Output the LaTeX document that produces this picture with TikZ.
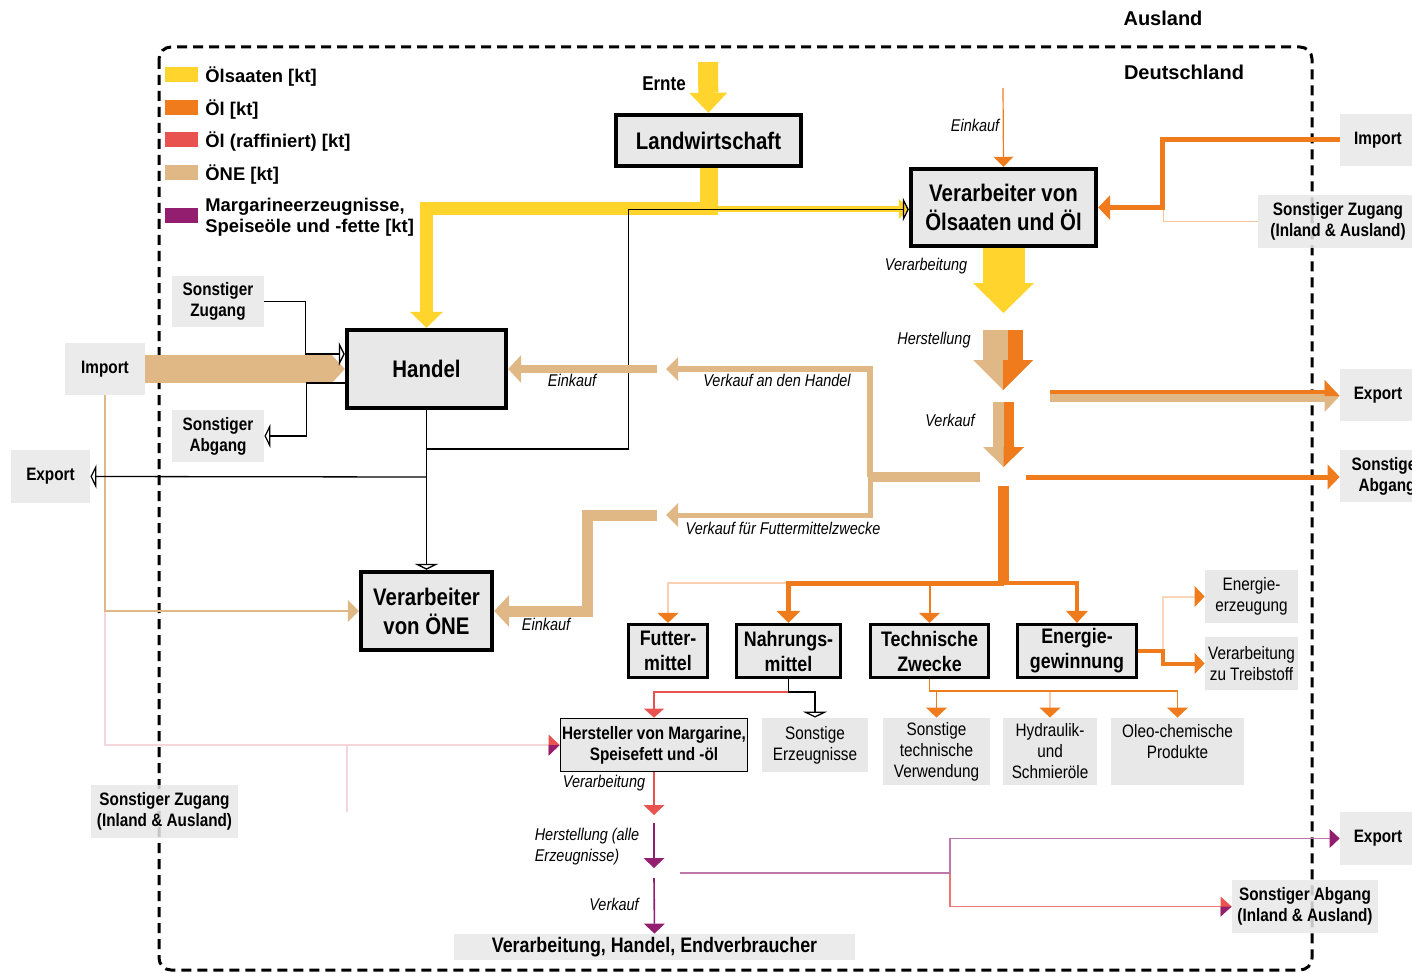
\documentclass[tikz,border=0pt]{standalone}
\usepackage{fontspec}
\setmainfont{Liberation Sans}
\newfontfamily\narrowfont{Liberation Sans}[FakeStretch=0.85]
\usetikzlibrary{arrows.meta, calc}
\definecolor{oilseed}{HTML}{FFD42C}
\definecolor{oil}{HTML}{EF7B1D}
\definecolor{refined}{HTML}{E9534F}
\definecolor{one}{HTML}{DFB886}
\definecolor{marg}{HTML}{931D6E}
\definecolor{boxgray}{HTML}{E8E8E8}
\definecolor{faintpink}{HTML}{F6D6DA}
\newcommand\boxfont{\narrowfont\bfseries\fontsize{12}{14.5}\selectfont}
\newcommand\smallboxfont{\narrowfont\bfseries\fontsize{10.5}{12.5}\selectfont}
\newcommand\sidefont{\narrowfont\bfseries\fontsize{9}{10.5}\selectfont}
\newcommand\prodfont{\narrowfont\fontsize{9}{10.5}\selectfont}
\newcommand\lblfont{\narrowfont\itshape\fontsize{8.5}{10.5}\selectfont}
\newcommand\legfont{\bfseries\fontsize{9.2}{10.5}\selectfont}
\newcommand\hdrfont{\bfseries\fontsize{10}{12}\selectfont}
\newcommand\consumerfont{\narrowfont\bfseries\fontsize{10.5}{12}\selectfont}
\begin{document}
\begin{tikzpicture}[x=0.5pt, y=-0.5pt,
    mainbox/.style={draw=black, line width=2.2pt, fill=boxgray, font=\boxfont, align=center, inner sep=0pt},
    usebox/.style={draw=black, line width=1.6pt, fill=boxgray, font=\smallboxfont, align=center, inner sep=0pt, minimum height=26.5pt},
    sidebox/.style={fill=boxgray, fill opacity=0.85, text opacity=1, font=\sidefont, align=center, inner sep=0pt},
    prodbox/.style={fill=boxgray, font=\prodfont, align=center, inner sep=0pt},
    lbl/.style={font=\lblfont, inner sep=0pt, align=left},
    flowhead/.style 2 args={-{Triangle[length=#1, width=#2, line width=0pt]}},
    ohead/.style={-{Triangle[length=5pt, width=10.5pt, line width=0pt, color=oil]}},
    link/.style={draw=black, line width=0.65pt, -{Triangle[open, length=3pt, width=12pt]}}
]
\useasboundingbox (0,0) rectangle (1412,973);

% Frame Deutschland
\draw[line width=1.5pt, dash pattern=on 5pt off 3pt, rounded corners=6pt] (159,47) rectangle (1312,970);
\node[font=\hdrfont] (ausland) at (1163,18) {Ausland};
\node[font=\hdrfont] (deutschland) at (1184,72) {Deutschland};

% Legend
\foreach \col/\yy/\txt in {oilseed/75/{Ölsaaten [kt]}, oil/108/{Öl [kt]}, refined/140/{Öl (raffiniert) [kt]}, one/173/{ÖNE [kt]}, marg/215.5/{Margarineerzeugnisse,\\Speiseöle und -fette [kt]}} {
    \fill[\col] (165,\yy-7.5) rectangle (198,\yy+7.5);
    \node[font=\legfont, anchor=west, align=left, inner sep=0pt] (leg\col) at (205,\yy+1.5) {\txt};
}

% Main actors
\node[mainbox, minimum width=92.5pt, minimum height=25.5pt] (landw) at (708.5,140.5) {Landwirtschaft};
\node[mainbox, minimum width=79.5pt, minimum height=39pt] (handel) at (426.5,369) {Handel};
\node[mainbox, minimum width=92.5pt, minimum height=38.5pt] (vsaat) at (1003.5,207.5) {Verarbeiter von\\Ölsaaten und Öl};
\node[mainbox, minimum width=65.5pt, minimum height=39pt] (vone) at (426.5,611) {Verarbeiter\\von ÖNE};

% Uses
\node[usebox, minimum width=39.5pt] (futter) at (668,651) {Futter-\\mittel};
\node[usebox, minimum width=52pt] (nahrung) at (788.5,651) {Nahrungs-\\mittel};
\node[usebox, minimum width=59pt] (technisch) at (929.5,651) {Technische\\Zwecke};
\node[usebox, minimum width=59.5pt] (energie) at (1077,651) {Energie-\\gewinnung};
\node[draw=black, line width=0.8pt, fill=boxgray, font=\sidefont, align=center, inner sep=0pt, minimum width=93.5pt, minimum height=26.5pt] (hersteller) at (654,745) {Hersteller von Margarine,\\Speisefett und -öl};

% Sources and sinks
\node[sidebox, minimum width=46pt, minimum height=25.5pt] (szugL) at (218,301.5) {Sonstiger\\Zugang};
\node[sidebox, minimum width=40pt, minimum height=26pt] (importL) at (105,369) {Import};
\node[sidebox, minimum width=46pt, minimum height=26pt] (sabgL) at (218,436) {Sonstiger\\Abgang};
\node[sidebox, minimum width=39.5pt, minimum height=26.5pt] (exportL) at (50.5,476.5) {Export};
\node[sidebox, minimum width=73.5pt, minimum height=26.5pt] (szugLL) at (164.5,811.5) {Sonstiger Zugang\\(Inland \& Ausland)};
\node[sidebox, minimum width=38pt, minimum height=26pt] (importR) at (1378,140) {Import};
\node[sidebox, minimum width=80pt, minimum height=26.5pt] (szugR) at (1338,221.5) {Sonstiger Zugang\\(Inland \& Ausland)};
\node[sidebox, minimum width=38pt, minimum height=26pt] (exportR) at (1378,395) {Export};
\node[sidebox, minimum width=47pt, minimum height=26pt] (sabgR) at (1387,476) {Sonstiger\\Abgang};
\node[sidebox, minimum width=38pt, minimum height=26.5pt] (exportRR) at (1378,838.5) {Export};
\node[sidebox, minimum width=73pt, minimum height=26.5pt] (sabgRR) at (1305,906.5) {Sonstiger Abgang\\(Inland \& Ausland)};
\node[prodbox, minimum width=46.5pt, minimum height=26.5pt] (energieerz) at (1251.5,596.5) {Energie-\\erzeugung};
\node[prodbox, minimum width=46.5pt, minimum height=26.5pt] (treibstoff) at (1251.5,663.5) {Verarbeitung\\zu Treibstoff};
\node[prodbox, minimum width=53pt, minimum height=27pt] (sonsterz) at (815,745) {Sonstige\\Erzeugnisse};
\node[prodbox, minimum width=53.5pt, minimum height=33.5pt] (sonsttech) at (936.5,751.5) {Sonstige\\technische\\Verwendung};
\node[prodbox, minimum width=47pt, minimum height=33.5pt] (hydraulik) at (1050,751.5) {Hydraulik-\\und\\Schmieröle};
\node[prodbox, minimum width=66.5pt, minimum height=33.5pt] (oleo) at (1177.5,751.5) {Oleo-chemische\\Produkte\\~};
\node[sidebox, font=\consumerfont, minimum width=200.5pt, minimum height=13pt] (endv) at (654.5,947) {Verarbeitung, Handel, Endverbraucher};

% Flow labels
\node[font=\narrowfont\bfseries\fontsize{10}{12}\selectfont] (ernte) at (664,84) {Ernte};
\node[lbl] (lekO) at (975,125) {Einkauf};
\node[lbl] (lvaO) at (926,266) {Verarbeitung};
\node[lbl] (lheO) at (934,340) {Herstellung};
\node[lbl] (lvkO) at (950,420) {Verkauf};
\node[lbl] (lekH) at (572,380) {Einkauf};
\node[lbl] (lvkH) at (777,380) {Verkauf an den Handel};
\node[lbl] (lvkF) at (783,528) {Verkauf für Futtermittelzwecke};
\node[lbl] (lekF) at (546,624) {Einkauf};
\node[lbl] (lvaM) at (604,783) {Verarbeitung};
\node[lbl] (lheM) at (587,847) {Herstellung (alle\\Erzeugnisse)};
\node[lbl] (lvkM) at (614,904) {Verkauf};

% Free ends
\coordinate (erntein) at (708,62);
\coordinate (yfork) at (708,209);
\coordinate (einkaufin) at (1003,88);
\coordinate (verarbtip) at (1003.5,313);
\coordinate (herstTop) at (1003,330);
\coordinate (herstTip) at (1003,390);
\coordinate (vkTop) at (1003.5,402);
\coordinate (vkTip) at (1003.5,467);
\coordinate (exStart) at (1050,396);
\coordinate (exTip) at (exStart -| exportR.west);
\coordinate (sabgStart) at (1026,477);
\coordinate (tanStart) at (980,477);
\coordinate (tanFork) at (870,477);
\coordinate (vkHandelTip) at (666,369);
\coordinate (vkFutterTip) at (666,515);
\coordinate (ekHandel) at (657,369);
\coordinate (ekFutter) at (657,515);
\coordinate (oTop) at (1003.5,486);
\coordinate (oBus) at (1003.5,583);
\coordinate (hsplitA) at (426.5,449);
\coordinate (hsplitB) at (426.5,477);
\coordinate (rTip) at (654,815);
\coordinate (mTop1) at (654,823);
\coordinate (mTip1) at (654,868);
\coordinate (mTop2) at (654,878);
\coordinate (mOut) at (680,873);
\coordinate (zugJoin) at (347,745);

% Oilseeds
\draw[oilseed, line width=10pt, flowhead={10pt}{19pt}] (erntein) -- (landw.north);
\draw[oilseed, line width=9pt] (landw.south) -- ++(0,47);
\draw[oilseed, line width=6.5pt, flowhead={8pt}{16.5pt}] (yfork) -| (handel.north);
\draw[oilseed, line width=3pt, flowhead={5pt}{10pt}] (yfork) -- (yfork -| vsaat.west);
\draw[oil, line width=0.6pt, flowhead={5pt}{10pt}] (einkaufin) -- (vsaat.north);
\draw[oilseed, line width=21pt, flowhead={15pt}{30.5pt}] (vsaat.south) -- (verarbtip);

% Import ONE / trade
\draw[faintpink, line width=0.8pt, -{Triangle[length=5.5pt, width=10.5pt, line width=0pt, color=refined]}] (importL.south) |- (hersteller.west);
\fill[marg] (hersteller.west) -- ++(-11,0) -- ++(0,10.5) -- cycle;
\draw[faintpink, line width=0.6pt] (zugJoin) -- ++(0,67);
\draw[one, line width=1pt, flowhead={5.5pt}{11pt}] (importL.south) |- (vone.west);
\draw[one, line width=14pt, flowhead={6.5pt}{14pt}] (importL.east) -- (handel.west);
\draw[link] (handel.south) -- (vone.north);
\draw[link] (hsplitA) -- ++(202,0) |- ([yshift=-1pt]vsaat.west);
\draw[link] (hsplitB) -- (exportL.east);
\draw[link] (szugL.east) -- ++(41,0) |- ([yshift=7.5pt]handel.west);
\draw[link] ([yshift=-7pt]handel.west) -- ++(-38,0) |- (sabgL.east);

% Oil import
\draw[oil!45, line width=0.6pt] (szugR.west) -- ++(-94,0) -- ++(0,-13);
\draw[oil, line width=2.5pt, flowhead={6pt}{12.5pt}] (importR.west) -- ++(-177,0) |- (vsaat.east);

% Herstellung and Verkauf
\draw[one, line width=20pt, flowhead={15pt}{30pt}] (herstTop) -- (herstTip);
\fill[oil] ($(herstTop)+(5,0)$) rectangle ($(herstTop)+(20,30)$);
\fill[oil] ($(herstTip)+(0,-30)$) -- ($(herstTip)+(30,-30)$) -- (herstTip) -- cycle;
\draw[one, line width=10.5pt, flowhead={10pt}{20.5pt}] (vkTop) -- (vkTip);
\fill[oil] (vkTop) rectangle ($(vkTop)+(10.5,45)$);
\fill[oil] ($(vkTip)+(0,-20)$) -- ($(vkTip)+(20.5,-20)$) -- (vkTip) -- cycle;
\draw[one, line width=6pt, flowhead={7.5pt}{16pt}] (exStart) -- (exTip);
\fill[oil] ($(exStart)+(0,-6)$) rectangle ($(exTip)+(-15,-2)$);
\fill[oil] ($(exTip)+(-15,-16)$) -- (exTip) -- ($(exTip)+(-15,0)$) -- cycle;
\draw[oil, line width=2.5pt, flowhead={6pt}{12.5pt}] (sabgStart) -- (sabgStart -| sabgR.west);

% ONE sales
\draw[one, line width=5pt] (tanStart) -- (tanFork);
\draw[one, line width=3pt, flowhead={6pt}{12pt}] (tanFork) |- (vkHandelTip);
\draw[one, line width=2.5pt, flowhead={6pt}{12pt}] (tanFork) |- (vkFutterTip);
\draw[one, line width=4pt, flowhead={6.5pt}{14pt}] (ekHandel) -- (handel.east);
\draw[one, line width=5.5pt, flowhead={7.5pt}{16pt}] (ekFutter) -- ++(-70,0) |- (vone.east);

% Oil uses
\draw[oil, line width=5.5pt] (oTop) -- (oBus);
\draw[oil!35, line width=1pt, ohead] (oBus -| nahrung.north) -| (futter.north);
\draw[oil, line width=1pt, ohead] (oBus) -| (technisch.north);
\draw[oil, line width=2pt, flowhead={6pt}{11pt}] (oBus) -| (energie.north);
\draw[oil, line width=2.5pt, flowhead={6pt}{12pt}] (oBus) -| (nahrung.north);
\draw[oil!30, line width=1pt, ohead] (energie.east) -- ++(25,0) |- (energieerz.west);
\draw[oil, line width=2pt, flowhead={5pt}{10.5pt}] (energie.east) -- ++(25,0) |- (treibstoff.west);
\foreach \prod/\shade in {sonsttech/oil, hydraulik/oil!40, oleo/oil}
    \draw[\shade, line width=0.8pt, ohead] (technisch.south) -- ++(0,12) -| (\prod.north);

% Margarine chain
\draw[refined, line width=0.8pt, flowhead={4.5pt}{10pt}] (nahrung.south) -- ++(0,13) -| (hersteller.north);
\draw[link] (nahrung.south) -- ++(0,13) -| (sonsterz.north);
\draw[refined, line width=0.8pt, flowhead={5pt}{10.5pt}] (hersteller.south) -- (rTip);
\draw[marg, line width=0.8pt, flowhead={5pt}{10.5pt}] (mTop1) -- (mTip1);
\draw[marg, line width=0.8pt, flowhead={5pt}{10.5pt}] (mTop2) -- (endv.north);
\draw[refined!80, line width=0.8pt, -{Triangle[length=5.5pt, width=10pt, line width=0pt, color=refined]}] (mOut) -- ++(270,0) |- (sabgRR.west);
\fill[marg] (sabgRR.west) -- ++(-11,0) -- ++(0,10) -- cycle;
\draw[marg!60, line width=0.8pt, -{Triangle[length=5pt, width=9.5pt, line width=0pt, color=marg]}] (mOut) -- ++(270,0) |- (exportRR.west);

\end{tikzpicture}
\end{document}
